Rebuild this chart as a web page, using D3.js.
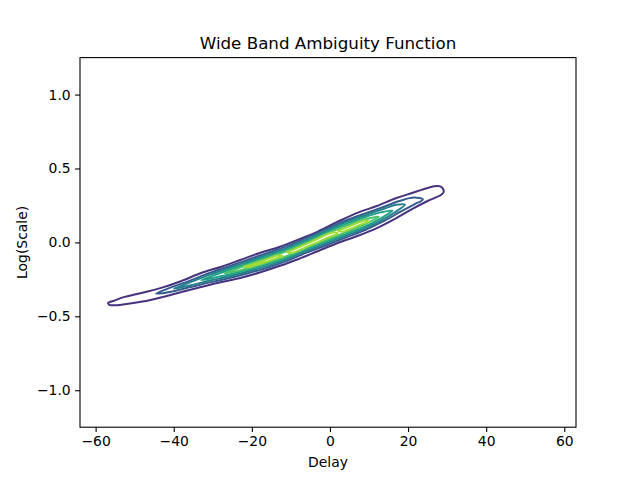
<!DOCTYPE html>
<html>
<head>
<meta charset="utf-8">
<script src="https://cdn.jsdelivr.net/npm/d3@7"></script>
<style>
  body { margin: 0; background: #fff; }
  text { font-family: "DejaVu Sans", sans-serif; }
</style>
</head>
<body>
<svg id="chart" width="640" height="480"></svg>
<script>
// contour levels (matplotlib style: 0 .. 1.05 step 0.15, bottom level not drawn)
const levels = [0.15, 0.3, 0.45, 0.6, 0.75, 0.9];
const xTicks = [-60, -40, -20, 0, 20, 40, 60];
const yTicks = [-1.0, -0.5, 0.0, 0.5, 1.0];

// contour rings, [delay, log(scale)]
const ring015 = [[-56.8,-0.41],[-55,-0.392],[-53,-0.372],[-48,-0.34],[-43,-0.306],[-38,-0.261],[-33,-0.207],
  [-28,-0.166],[-23,-0.119],[-18,-0.072],[-13,-0.031],[-8,0.02],[-3,0.075],[2,0.14],[7,0.2],[12,0.246],
  [17,0.30],[21,0.334],[25,0.368],[27.5,0.381],[28.7,0.372],[29.1,0.34],
  [28.5,0.322],[25,0.28],[21,0.225],[17,0.165],[12,0.097],[7,0.043],[2,-0.004],[-3,-0.058],[-8,-0.112],
  [-13,-0.16],[-18,-0.204],[-23,-0.241],[-28,-0.27],[-33,-0.302],[-38,-0.335],[-43,-0.37],[-48,-0.40],
  [-53,-0.42],[-55,-0.425],[-56.5,-0.422]];
const ring030 = [[-44.5,-0.347],[-41,-0.308],[-36,-0.26],[-31,-0.208],[-26,-0.163],[-21,-0.117],[-16,-0.071],
  [-11,-0.025],[-6,0.031],[-1,0.091],[4,0.148],[9,0.196],[14,0.243],[18,0.282],[21.5,0.304],[23.8,0.29],
  [21.5,0.256],[18,0.206],[14,0.147],[9,0.084],[4,0.032],[-1,-0.019],[-6,-0.069],[-11,-0.125],[-16,-0.171],
  [-21,-0.209],[-26,-0.243],[-31,-0.272],[-36,-0.304],[-41,-0.336]];
const ring045 = [[-40,-0.314],[-36,-0.272],[-31,-0.22],[-26,-0.175],[-21,-0.129],[-16,-0.083],[-11,-0.037],
  [-6,0.019],[-1,0.079],[4,0.136],[9,0.184],[14,0.229],[17,0.254],[19.2,0.255],
  [17,0.21],[14,0.161],[9,0.096],[4,0.044],[-1,-0.007],[-6,-0.057],[-11,-0.113],[-16,-0.159],[-21,-0.197],
  [-26,-0.231],[-31,-0.26],[-36,-0.292]];
const ring060 = [[-33,-0.255],[-29,-0.215],[-26,-0.187],[-21,-0.141],[-16,-0.095],[-11,-0.048],[-6,0.008],
  [-1,0.067],[4,0.124],[9,0.172],[13,0.203],[16,0.215],
  [13,0.163],[9,0.108],[4,0.056],[-1,0.005],[-6,-0.046],[-11,-0.102],[-16,-0.147],[-21,-0.185],[-26,-0.219],
  [-29,-0.235]];
const ring075 = [[-27,-0.21],[-24,-0.18],[-21,-0.151],[-16,-0.105],[-11,-0.058],[-6,-0.002],[-1,0.056],
  [4,0.112],[9,0.156],[12.5,0.174],
  [9,0.124],[4,0.068],[-1,0.016],[-6,-0.036],[-11,-0.092],[-16,-0.137],[-21,-0.175],[-24,-0.196]];
const ring090a = [[-21,-0.158],[-17,-0.122],[-13,-0.087],[-12,-0.094],[-13,-0.101],[-17,-0.138],[-21,-0.168],[-22,-0.165]];
const ring090b = [[-10,-0.056],[-5,0.002],[1,0.068],[2,0.058],[1,0.048],[-5,-0.018],[-10,-0.072],[-11,-0.065]];
const ring090c = [[3,0.088],[6,0.12],[9,0.148],[10,0.14],[9,0.132],[6,0.1],[3,0.072],[2,0.08]];

const ringsByLevel = [[ring015], [ring030], [ring045], [ring060], [ring075], [ring090a, ring090b, ring090c]];

const W = 640, H = 480;
const margin = {left: 80, right: 64, top: 57.6, bottom: 52.8};
const svg = d3.select("#chart");

const x = d3.scaleLinear().domain([-64, 63]).range([margin.left, W - margin.right]);
const y = d3.scaleLinear().domain([-1.25, 1.25]).range([H - margin.bottom, margin.top]);
const color = d3.scaleSequential(d3.interpolateViridis).domain([0, 1.05]);

const line = d3.line()
  .x(d => x(d[0]))
  .y(d => y(d[1]))
  .curve(d3.curveCatmullRomClosed.alpha(0.5));

// contours
const g = svg.append("g");
levels.forEach((lv, i) => {
  g.selectAll(null)
    .data(ringsByLevel[i])
    .enter().append("path")
    .attr("d", line)
    .attr("fill", "none")
    .attr("stroke", color(lv))
    .attr("stroke-width", 2)
    .attr("stroke-linejoin", "round");
});

// frame
svg.append("rect")
  .attr("x", margin.left).attr("y", margin.top)
  .attr("width", W - margin.left - margin.right)
  .attr("height", H - margin.top - margin.bottom)
  .attr("fill", "none").attr("stroke", "#000").attr("stroke-width", 1.1);

const fmtMinus = s => s.replace("-", "\u2212");

const xAxis = svg.append("g")
  .attr("transform", `translate(0,${H - margin.bottom})`)
  .call(d3.axisBottom(x).tickValues(xTicks).tickSize(4.9).tickPadding(4.4)
    .tickSizeOuter(0).tickFormat(d => fmtMinus(d3.format("d")(d))));
const yAxis = svg.append("g")
  .attr("transform", `translate(${margin.left},0)`)
  .call(d3.axisLeft(y).tickValues(yTicks).tickSize(4.9).tickPadding(4.4)
    .tickSizeOuter(0).tickFormat(d => fmtMinus(d3.format(".1f")(d))));

[xAxis, yAxis].forEach(a => {
  a.select(".domain").remove();
  a.selectAll(".tick line").attr("stroke", "#000").attr("stroke-width", 1.1);
  a.selectAll(".tick text").attr("fill", "#000")
    .style("font-size", "13.9px").style("font-family", "DejaVu Sans, sans-serif");
});

// labels
svg.append("text")
  .attr("x", (margin.left + W - margin.right) / 2).attr("y", 49)
  .attr("text-anchor", "middle").style("font-size", "16.7px")
  .text("Wide Band Ambiguity Function");

svg.append("text")
  .attr("x", (margin.left + W - margin.right) / 2).attr("y", 467)
  .attr("text-anchor", "middle").style("font-size", "13.9px")
  .text("Delay");

svg.append("text")
  .attr("transform", `translate(27,${(margin.top + H - margin.bottom) / 2}) rotate(-90)`)
  .attr("text-anchor", "middle").style("font-size", "13.9px")
  .text("Log(Scale)");
</script>
</body>
</html>
